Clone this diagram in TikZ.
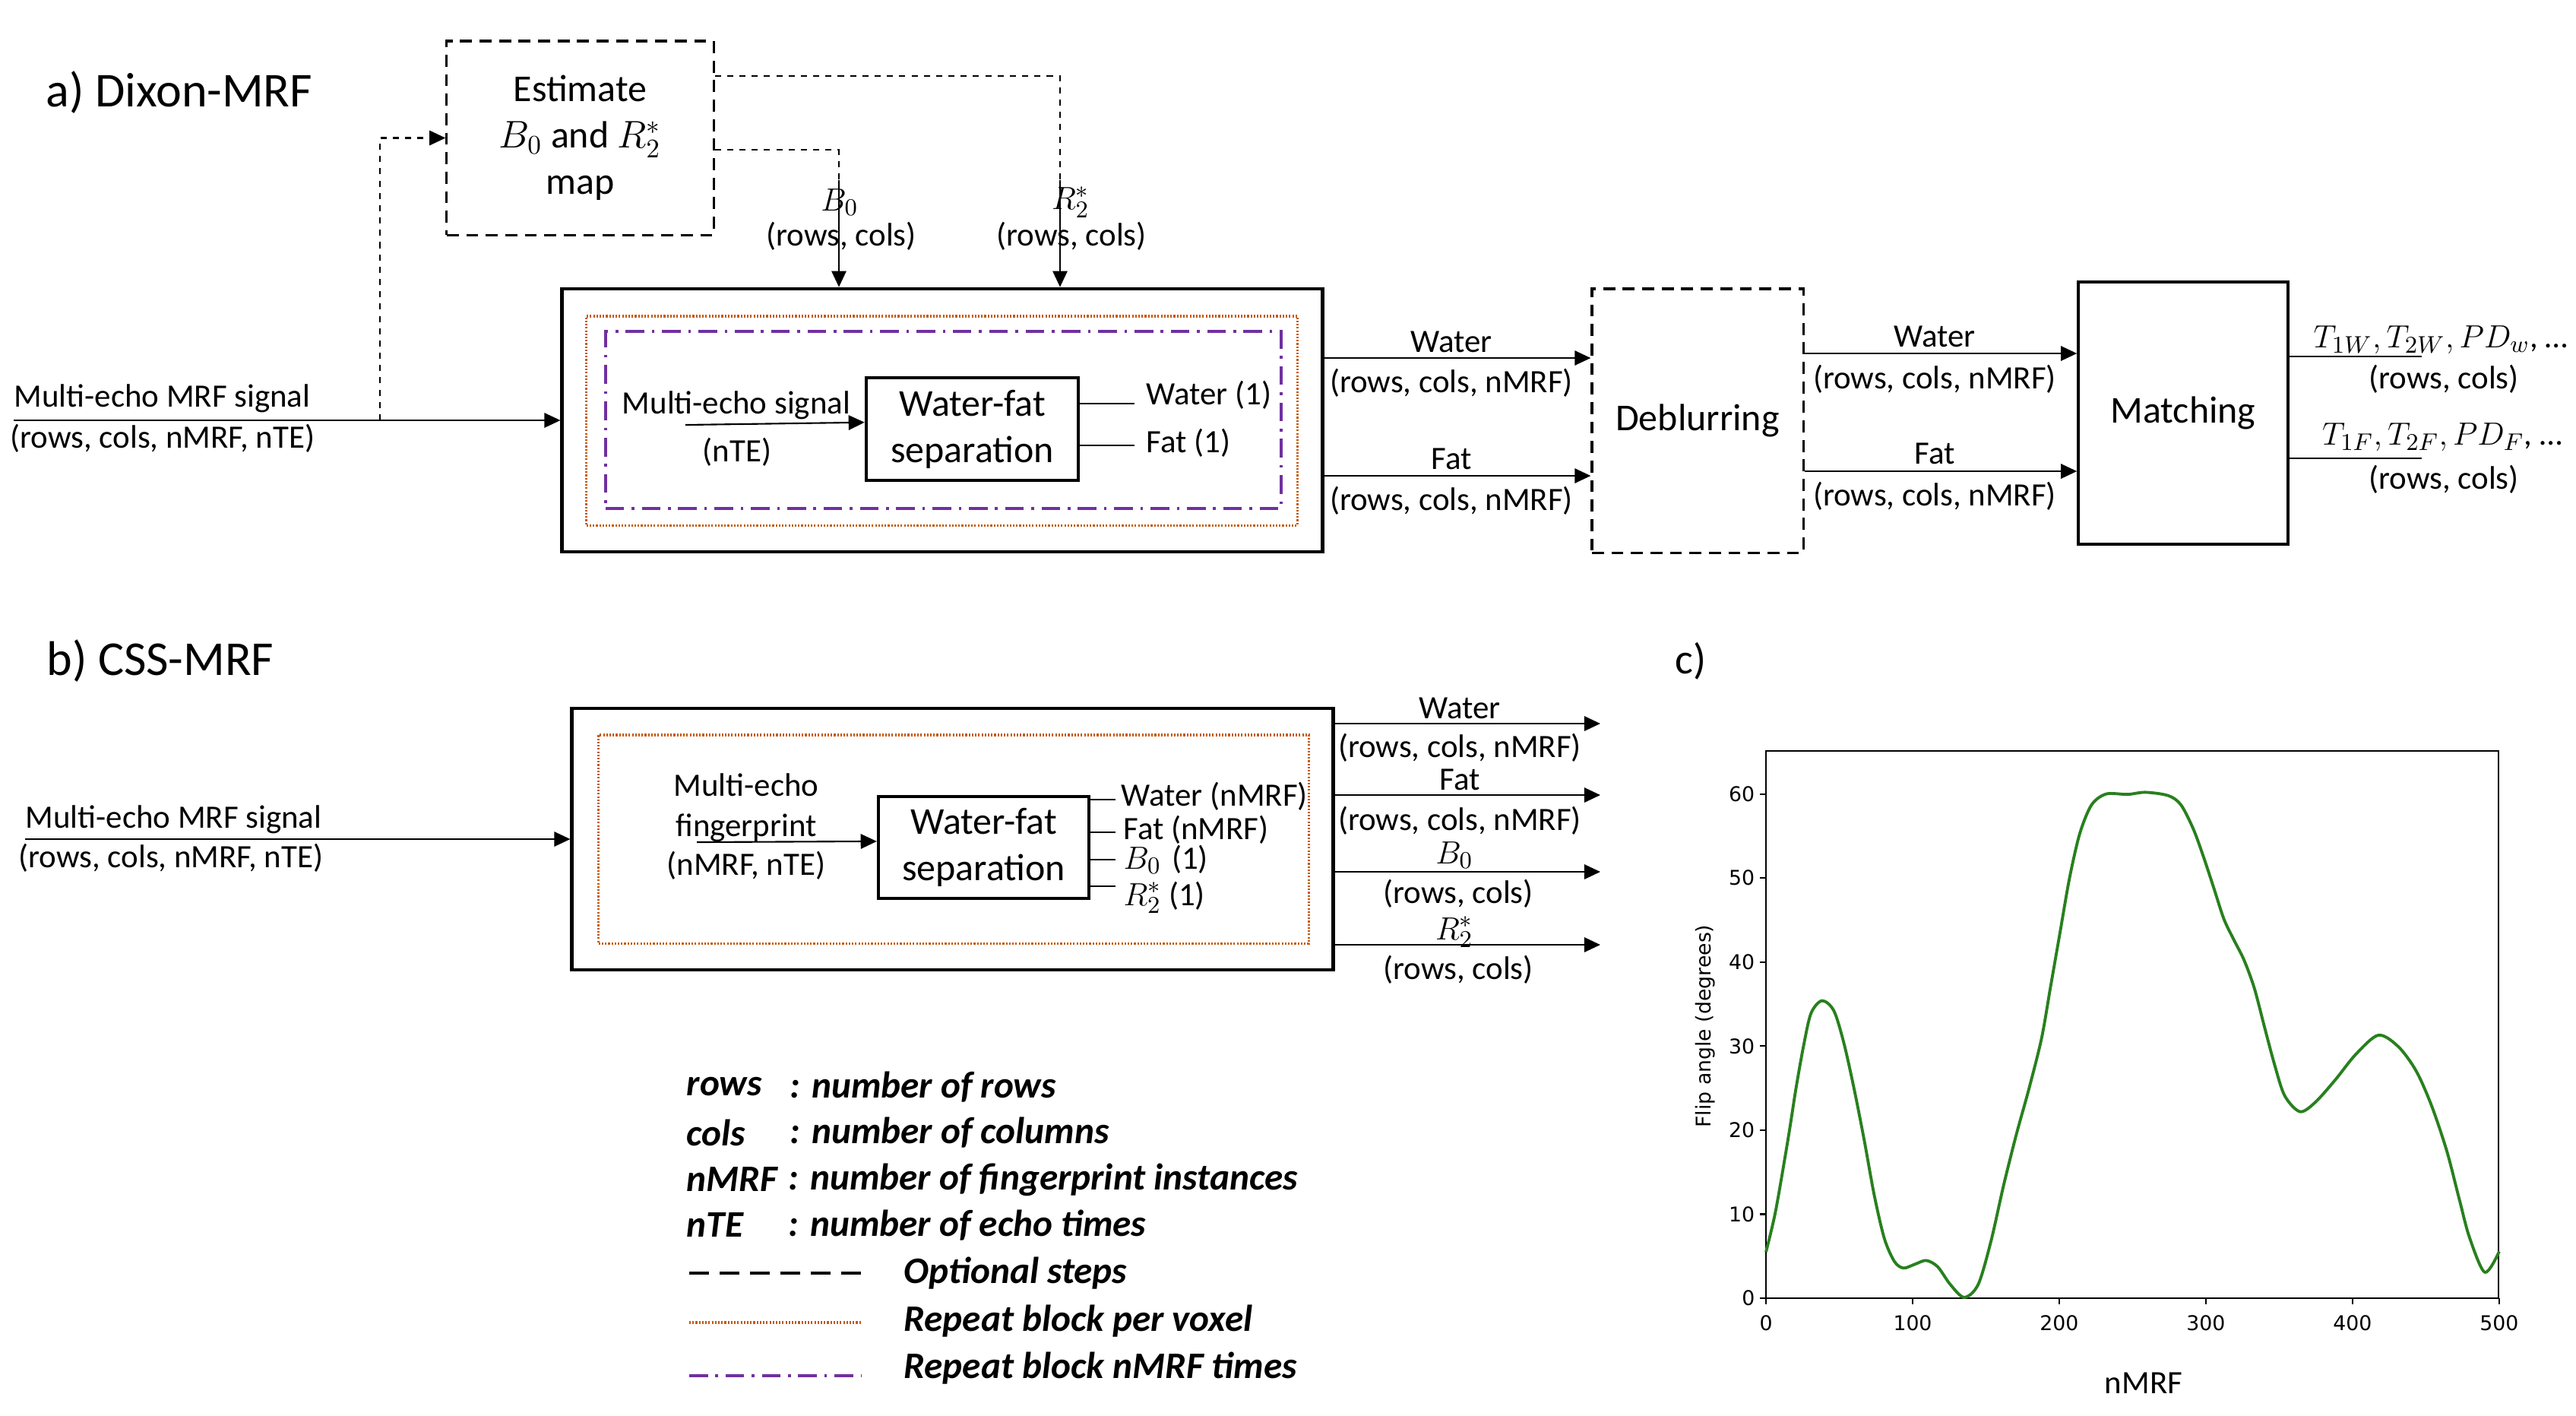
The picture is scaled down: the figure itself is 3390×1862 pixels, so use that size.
\documentclass[tikz,border=0pt]{standalone}
\usepackage{fontspec}
\setmainfont{Carlito}
\newfontfamily\dejavu{DejaVu Sans}
\usetikzlibrary{arrows.meta}
\definecolor{orangeC}{RGB}{197,90,17}
\definecolor{purpleC}{RGB}{112,48,160}
\definecolor{plotgreen}{RGB}{40,128,30}
\begin{document}
\begin{tikzpicture}[x=0.01cm,y=-0.01cm,
  txt/.style={font=\fontsize{12.2}{14.6}\selectfont, inner sep=0pt, align=center},
  bigtxt/.style={font=\fontsize{14.2}{17.4}\selectfont, inner sep=0pt, align=center},
  ttl/.style={font=\fontsize{18.2}{22}\selectfont, inner sep=0pt, anchor=west},
  legtxt/.style={font=\fontsize{14}{16}\selectfont\bfseries\itshape, inner sep=0pt, anchor=west},
  arr/.style={line width=0.6pt, -{Triangle[length=6pt,width=5.5pt]}},
  thin/.style={line width=0.6pt},
  optdash/.style={line width=0.6pt, dash pattern=on 2.3pt off 2.3pt},
  boxnode/.style={draw, rectangle, inner sep=0pt, line width=1.2pt},
  optbox/.style={draw, rectangle, inner sep=0pt, line width=0.9pt, dash pattern=on 4.5pt off 2.8pt},
  voxel/.style={draw=orangeC, line width=0.9pt, dash pattern=on 0.6pt off 0.6pt},
  nmrf/.style={draw=purpleC, line width=1.1pt, dash pattern=on 7pt off 2.8pt on 1pt off 2.8pt},
  ticklbl/.style={font=\dejavu\fontsize{7.6}{9}\selectfont, inner sep=0pt},
]
\useasboundingbox (0,0) rectangle (3390,1862);

% ---------------- a) Dixon-MRF ----------------
\node[ttl] (ta) at (60,122) {a) Dixon-MRF};

\node[optbox, minimum width=3.51cm, minimum height=2.55cm, bigtxt] (est) at (763.5,181.5)
  {Estimate\\$B_0$ and $R_2^*$\\map};

\node[boxnode, line width=1.3pt, minimum width=10cm, minimum height=3.46cm] (mainA) at (1240,553) {};
\node[voxel, rectangle, inner sep=0pt, minimum width=9.35cm, minimum height=2.75cm] (voxA) at (1239.5,553.5) {};
\node[nmrf, rectangle, inner sep=0pt, minimum width=8.89cm, minimum height=2.33cm] (nmrfA) at (1241.5,552.5) {};
\node[boxnode, minimum width=2.79cm, minimum height=1.35cm, bigtxt] (wfa) at (1279.5,564.5) {Water-fat\\separation};

\node[txt] (mesa) at (969,533) {Multi-echo signal};
\node[txt] (ntea) at (970,595) {(nTE)};
\coordinate (mesaS) at (902,559);
\draw[arr] (mesaS) -- ([yshift=2.5pt]wfa.west);

\coordinate (stubWa) at (1493,531);
\coordinate (stubFa) at (1493,586);
\draw[thin] (wfa.east |- stubWa) -- (stubWa);
\draw[thin] (wfa.east |- stubFa) -- (stubFa);
\node[txt, anchor=west] (w1a) at (1508,520) {Water (1)};
\node[txt, anchor=west] (f1a) at (1508,583) {Fat (1)};

% input
\node[txt, anchor=west] (inA1) at (18,524) {Multi-echo MRF signal};
\node[txt, anchor=west] (inA2) at (13,577) {(rows, cols, nMRF, nTE)};
\coordinate (inAS) at (18,553);
\coordinate (branch) at (500,553);
\draw[arr] (inAS) -- (mainA.west);
\draw[optdash, -{Triangle[length=6pt,width=5.5pt]}] (branch) |- (est.west);

% B0 and R2* from estimate
\coordinate (b0top) at (1104,237);
\coordinate (r2top) at (1395,237);
\draw[optdash] (est.east |- 0,197) -| (b0top);
\draw[optdash] (est.east |- 0,100) -| (r2top);
\draw[arr] (b0top) -- (b0top |- mainA.north);
\draw[arr] (r2top) -- (r2top |- mainA.north);
\node[txt] (b0lbl) at (1105,266) {$B_0$};
\node[txt] (b0dim) at (1107,311) {(rows, cols)};
\node[txt] (r2lbl) at (1409,266) {$R_2^*$};
\node[txt] (r2dim) at (1410,311) {(rows, cols)};

% deblurring
\node[optbox, minimum width=2.78cm, minimum height=3.47cm, bigtxt] (deb) at (2234,553.5) {Deblurring};
\coordinate (aw) at (1900,471);
\coordinate (af) at (1900,626);
\draw[arr] (mainA.east |- aw) -- (deb.west |- aw);
\draw[arr] (mainA.east |- af) -- (deb.west |- af);
\node[txt] (aw1) at (1910,450) {Water};
\node[txt] (aw2) at (1910,504) {(rows, cols, nMRF)};
\node[txt] (af1) at (1910,604) {Fat};
\node[txt] (af2) at (1910,659) {(rows, cols, nMRF)};

% matching
\node[boxnode, line width=1pt, minimum width=2.76cm, minimum height=3.45cm, bigtxt] (match) at (2873,543.5) {Matching};
\coordinate (bw) at (2550,465);
\coordinate (bf) at (2550,620);
\draw[arr] (deb.east |- bw) -- (match.west |- bw);
\draw[arr] (deb.east |- bf) -- (match.west |- bf);
\node[txt] (bw1) at (2546,443) {Water};
\node[txt] (bw2) at (2546,499) {(rows, cols, nMRF)};
\node[txt] (bf1) at (2546,597) {Fat};
\node[txt] (bf2) at (2546,653) {(rows, cols, nMRF)};

\coordinate (ow) at (3187,469);
\coordinate (of) at (3187,603);
\draw[thin] (match.east |- ow) -- (ow);
\draw[thin] (match.east |- of) -- (of);
\node[txt] (ow1) at (3212,447) {$T_{1W}, T_{2W}, PD_{w}$, \ldots};
\node[txt] (ow2) at (3216,499) {(rows, cols)};
\node[txt] (of1) at (3214,575) {$T_{1F}, T_{2F}, PD_{F}$, \ldots};
\node[txt] (of2) at (3216,631) {(rows, cols)};

% ---------------- b) CSS-MRF ----------------
\node[ttl] (tb) at (61,870) {b) CSS-MRF};

\node[boxnode, line width=1.3pt, minimum width=10.01cm, minimum height=3.44cm] (mainB) at (1253.5,1104) {};
\node[voxel, rectangle, inner sep=0pt, minimum width=9.34cm, minimum height=2.74cm] (voxB) at (1255,1104) {};
\node[boxnode, minimum width=2.77cm, minimum height=1.34cm, bigtxt] (wfb) at (1294.5,1115) {Water-fat\\separation};

\node[txt] (mef1) at (982,1033) {Multi-echo};
\node[txt] (mef2) at (982,1089) {fingerprint};
\node[txt] (mef3) at (982,1139) {(nMRF, nTE)};
\coordinate (mefS) at (917,1108);
\draw[arr] (mefS) -- ([yshift=2.3pt]wfb.west);

\coordinate (s1) at (1468,1052);
\coordinate (s2) at (1468,1095);
\coordinate (s3) at (1468,1131);
\coordinate (s4) at (1468,1166);
\draw[thin] (wfb.east |- s1) -- (s1);
\draw[thin] (wfb.east |- s2) -- (s2);
\draw[thin] (wfb.east |- s3) -- (s3);
\draw[thin] (wfb.east |- s4) -- (s4);
\node[txt, anchor=west] (l1) at (1475,1048) {Water (nMRF)};
\node[txt, anchor=west] (l2) at (1478,1092) {Fat (nMRF)};
\node[txt, anchor=west] (l3) at (1478,1131) {$B_0$\hspace{4pt}(1)};
\node[txt, anchor=west] (l4) at (1478,1191) {\smash{$R_2^*$ (1)}};

\node[txt, anchor=west] (inB1) at (33,1078) {Multi-echo MRF signal};
\node[txt, anchor=west] (inB2) at (24,1129) {(rows, cols, nMRF, nTE)};
\coordinate (inBS) at (33,1104);
\draw[arr] (inBS) -- (mainB.west);

\coordinate (e1) at (2106,952);
\coordinate (e2) at (2106,1046);
\coordinate (e3) at (2106,1147);
\coordinate (e4) at (2106,1243);
\draw[arr] (mainB.east |- e1) -- (e1);
\draw[arr] (mainB.east |- e2) -- (e2);
\draw[arr] (mainB.east |- e3) -- (e3);
\draw[arr] (mainB.east |- e4) -- (e4);
\node[txt] (o1a) at (1921,932) {Water};
\node[txt] (o1b) at (1921,984) {(rows, cols, nMRF)};
\node[txt] (o2a) at (1921,1026) {Fat};
\node[txt] (o2b) at (1921,1080) {(rows, cols, nMRF)};
\node[txt] (o3a) at (1914,1125) {$B_0$};
\node[txt] (o3b) at (1919,1176) {(rows, cols)};
\node[txt] (o4a) at (1914,1236) {\smash{$R_2^*$}};
\node[txt] (o4b) at (1919,1276) {(rows, cols)};

% ---------------- legend ----------------
\node[legtxt] (k1) at (903,1430) {rows};
\node[legtxt] (v1) at (1039,1430) {: number of rows};
\node[legtxt] (k2) at (903,1490) {cols};
\node[legtxt] (v2) at (1039,1490) {: number of columns};
\node[legtxt] (k3) at (903,1552) {nMRF};
\node[legtxt] (v3) at (1037,1552) {: number of fingerprint instances};
\node[legtxt] (k4) at (903,1612) {nTE};
\node[legtxt] (v4) at (1037,1612) {: number of echo times};
\coordinate (la1) at (907,1675); \coordinate (lb1) at (1134,1675);
\coordinate (la2) at (907,1740); \coordinate (lb2) at (1134,1740);
\coordinate (la3) at (907,1810); \coordinate (lb3) at (1134,1810);
\draw[line width=0.9pt, dash pattern=on 7.3pt off 4.1pt] (la1) -- (lb1);
\draw[voxel] (la2) -- (lb2);
\draw[nmrf] (la3) -- (lb3);
\node[legtxt] (m1) at (1189,1675) {Optional steps};
\node[legtxt] (m2) at (1189,1738) {Repeat block per voxel};
\node[legtxt] (m3) at (1189,1800) {Repeat block nMRF times};

% ---------------- c) plot ----------------
\node[font=\fontsize{16}{19}\selectfont, inner sep=0pt] (tc) at (2225,870) {c)};
\node[draw, line width=0.6pt, rectangle, inner sep=0pt, minimum width=9.64cm, minimum height=7.2cm] (axes) at (2806,1348) {};
\begin{scope}[shift={(2324,1708)}, x=0.01928cm, y=0.1105cm]
  \foreach \v in {0,100,...,500} {
    \draw[line width=0.6pt] (\v,0) -- ++(0pt,-2.3pt);
    \node[ticklbl, anchor=north] at ([yshift=-6.3pt]\v,0) {\v};
  }
  \foreach \v in {0,10,...,60} {
    \draw[line width=0.6pt] (0,\v) -- ++(-2.3pt,0pt);
    \node[ticklbl, anchor=east] at ([xshift=-4pt]0,\v) {\v};
  }
  \draw[plotgreen, line width=1.1pt, line join=round] plot[smooth, tension=0.5] coordinates {
    (0,5.5) (6.6,10.4) (15.2,19.1) (20.4,24.9) (25.6,30.0) (30.7,33.9) (38.2,35.4)
    (46.3,34.2) (53.2,30.3) (60.1,24.9) (67.0,18.8) (73.9,12.2) (80.8,7.06) (87.7,4.34)
    (93.8,3.59) (101.5,4.04) (109.3,4.49) (117.1,3.74) (125.7,1.63) (135.2,0.1)
    (144.7,1.63) (153.4,6.76) (162.0,13.4) (170.6,19.4) (179.3,24.9) (187.9,30.9)
    (193.9,36.9) (200.5,43.5) (207,50) (214,55.3) (222,58.7) (232,60) (246.6,59.95)
    (258.8,60.2) (274.4,59.8) (283.0,58.7) (291.5,55.8) (298.4,52.5) (305.4,48.8)
    (312.3,45.1) (319.2,42.6) (326.1,40.2) (333.0,36.9) (339.9,32.3) (346.8,27.8)
    (353.7,24.1) (364.1,22.2) (374.5,23.3) (388.3,26.0) (402.1,29.0) (417.6,31.3)
    (431.4,29.9) (443.5,27.0) (453.9,22.9) (464.3,17.5) (472.9,11.7) (479.8,7.2)
    (490.2,3.08) (500,5.56)};
\end{scope}
\node[ticklbl, rotate=90] (ylab) at (2244,1350) {Flip angle (degrees)};
\node[txt] (xlab) at (2821,1820) {nMRF};
\end{tikzpicture}
\end{document}
